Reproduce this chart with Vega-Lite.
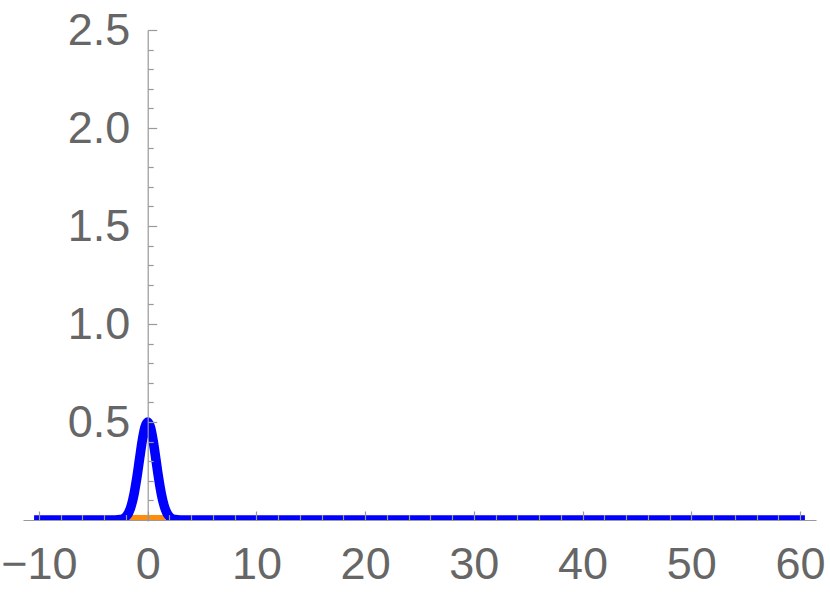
{
  "$schema": "https://vega.github.io/schema/vega-lite/v6.json",
  "width": 793,
  "height": 491,
  "autosize": "none",
  "padding": {"left": 23, "top": 30, "right": 14, "bottom": 79},
  "background": "white",
  "config": {"view": {"stroke": null}, "axis": {"labelOverlap": false, "labelFlush": false, "labelBound": false}},
  "datasets": {
    "orange": [
      {"x": -1.63, "y": 0},
      {"x": 1.63, "y": 0}
    ],
    "blue": [
      {"x": -10.45, "y": 0},
      {"x": -4, "y": 0},
      {"x": -3.5, "y": 0},
      {"x": -3, "y": 0.0003},
      {"x": -2.75, "y": 0.0009},
      {"x": -2.5, "y": 0.0026},
      {"x": -2.25, "y": 0.007},
      {"x": -2, "y": 0.0171},
      {"x": -1.75, "y": 0.0378},
      {"x": -1.5, "y": 0.075},
      {"x": -1.25, "y": 0.134},
      {"x": -1, "y": 0.215},
      {"x": -0.75, "y": 0.311},
      {"x": -0.5, "y": 0.405},
      {"x": -0.25, "y": 0.474},
      {"x": 0, "y": 0.5},
      {"x": 0.25, "y": 0.474},
      {"x": 0.5, "y": 0.405},
      {"x": 0.75, "y": 0.311},
      {"x": 1, "y": 0.215},
      {"x": 1.25, "y": 0.134},
      {"x": 1.5, "y": 0.075},
      {"x": 1.75, "y": 0.0378},
      {"x": 2, "y": 0.0171},
      {"x": 2.25, "y": 0.007},
      {"x": 2.5, "y": 0.0026},
      {"x": 2.75, "y": 0.0009},
      {"x": 3, "y": 0.0003},
      {"x": 3.5, "y": 0},
      {"x": 4, "y": 0},
      {"x": 60.45, "y": 0}
    ]
  },
  "resolve": {"axis": {"x": "independent", "y": "independent"}},
  "layer": [
    {
      "data": {"name": "orange"},
      "mark": {"type": "line", "color": "#FF8C0A", "strokeWidth": 10, "clip": true},
      "encoding": {
        "x": {
          "field": "x", "type": "quantitative",
          "scale": {"domain": [-11.47, 61.47], "nice": false, "zero": false},
          "axis": {
            "orient": "bottom",
            "title": null,
            "offset": -1,
            "values": [-10, 0, 10, 20, 30, 40, 50, 60],
            "format": "d",
            "grid": false,
            "ticks": false,
            "domainColor": "#999999",
            "domainWidth": 1.2,
            "labelFont": "Liberation Sans",
            "labelFontSize": 45,
            "labelColor": "#666666",
            "labelPadding": 22,
            "labelFlush": false,
            "labelOverlap": false,
            "labelBaseline": "top",
            "zindex": 1
          }
        },
        "y": {
          "field": "y", "type": "quantitative",
          "scale": {"domain": [-0.0051, 2.5], "nice": false, "zero": false},
          "axis": {
            "orient": "left",
            "title": null,
            "offset": -124.7,
            "values": [0.5, 1.0, 1.5, 2.0, 2.5],
            "format": ".1f",
            "grid": false,
            "ticks": false,
            "domainColor": "#999999",
            "domainWidth": 1.2,
            "labelFont": "Liberation Sans",
            "labelFontSize": 45,
            "labelColor": "#666666",
            "labelPadding": 18,
            "labelFlush": false,
            "labelOverlap": false,
            "labelBaseline": "middle",
            "zindex": 1
          }
        }
      }
    },
    {
      "data": {"name": "blue"},
      "mark": {"type": "line", "color": "#0000FF", "strokeWidth": 9.5, "interpolate": "monotone", "clip": true},
      "encoding": {
        "x": {
          "field": "x", "type": "quantitative",
          "axis": {
            "orient": "bottom",
            "title": null,
            "offset": -1,
            "values": [-10,-8,-6,-4,-2,0,2,4,6,8,10,12,14,16,18,20,22,24,26,28,30,32,34,36,38,40,42,44,46,48,50,52,54,56,58,60],
            "labels": false,
            "domain": false,
            "grid": false,
            "tickColor": "#999999",
            "tickWidth": 1.2,
            "tickSize": {"condition": {"test": "datum.value % 10 === 0", "value": -9}, "value": -5.5},
            "zindex": 1
          }
        },
        "y": {
          "field": "y", "type": "quantitative",
          "axis": {
            "orient": "left",
            "title": null,
            "offset": -124.7,
            "values": [0.1,0.2,0.3,0.4,0.5,0.6,0.7,0.8,0.9,1.0,1.1,1.2,1.3,1.4,1.5,1.6,1.7,1.8,1.9,2.0,2.1,2.2,2.3,2.4,2.5],
            "labels": false,
            "domain": false,
            "grid": false,
            "tickColor": "#999999",
            "tickWidth": 1.2,
            "tickSize": {"condition": {"test": "round(datum.value * 10) % 5 === 0", "value": -9}, "value": -5.5},
            "zindex": 1
          }
        }
      }
    }
  ]
}
